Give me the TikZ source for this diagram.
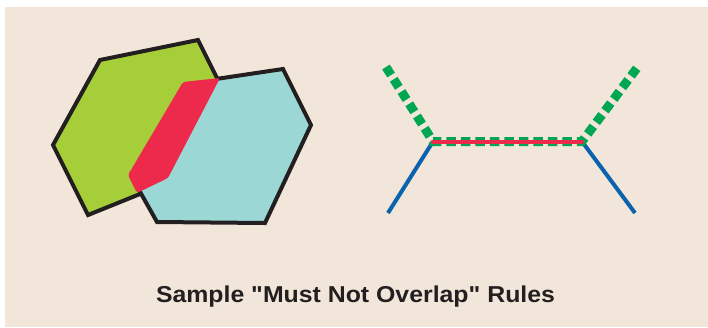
\documentclass[tikz,border=0pt]{standalone}
\usepackage{fontspec}
\setmainfont{Liberation Sans}[Ligatures=TeXOff]
\definecolor{bgbeige}{HTML}{F2E6DA}
\definecolor{hexgreen}{HTML}{A6CE39}
\definecolor{hexcyan}{HTML}{9BD7D5}
\definecolor{ovred}{HTML}{ED2A4B}
\definecolor{outlinec}{HTML}{231F20}
\definecolor{lnblue}{HTML}{0B63AE}
\definecolor{lngreen}{HTML}{00A651}
\begin{document}
\begin{tikzpicture}[x=1pt,y=-1pt,
  hexborder/.style={draw=outlinec,line width=4pt,line join=miter},
  bluelink/.style={draw=lnblue,line width=4pt},
  greenlink/.style={draw=lngreen,line width=9pt,dash pattern=on 9.5pt off 5pt},
  redlink/.style={draw=ovred,line width=4pt,line cap=round},
  titletext/.style={font=\bfseries\fontsize{23}{27}\selectfont,text=outlinec,inner sep=0pt,anchor=base}]
\useasboundingbox (0,0) rectangle (708,327);
\fill[bgbeige] (5,7) rectangle (708,327);
% green hexagon
\coordinate (g1) at (100,60);
\coordinate (g2) at (198,40);
\coordinate (g3) at (233,110);
\coordinate (g4) at (202,169);
\coordinate (g5) at (88,215);
\coordinate (g6) at (53,145);
\filldraw[fill=hexgreen,hexborder] (g1)--(g2)--(g3)--(g4)--(g5)--(g6)--cycle;
% cyan hexagon
\coordinate (c1) at (216,79);
\coordinate (c2) at (283,69);
\coordinate (c3) at (311,125);
\coordinate (c4) at (265,223);
\coordinate (c5) at (157,222);
\coordinate (c6) at (139,190);
\fill[hexcyan] (c1)--(c2)--(c3)--(c4)--(c5)--(c6)--cycle;
\draw[hexborder] (c1)--(c2)--(c3)--(c4)--(c5)--(c6);
% red overlap
\coordinate (r1) at (183,82);
\coordinate (r2) at (220,78);
\coordinate (r3) at (168,178);
\coordinate (r4) at (137,193);
\coordinate (r5) at (128,175);
\fill[ovred,rounded corners=2.5pt] (r1)--(r2)--(r3)--(r4)--(r5)--cycle;
% line example
\coordinate (la) at (386,67);
\coordinate (lb) at (433,141.5);
\coordinate (lc) at (582,141.5);
\coordinate (ld) at (637,68);
\coordinate (le) at (388,213);
\coordinate (lf) at (635,213);
\draw[bluelink] (lb)--(le);
\draw[bluelink] (lc)--(lf);
\draw[greenlink] (la)--(lb)--(lc)--(ld);
\draw[redlink] (lb)--(lc);
\node[titletext] (title) at (355.5,302) {\scalebox{1.08}[1]{Sample "Must Not Overlap" Rules}};
\end{tikzpicture}
\end{document}
